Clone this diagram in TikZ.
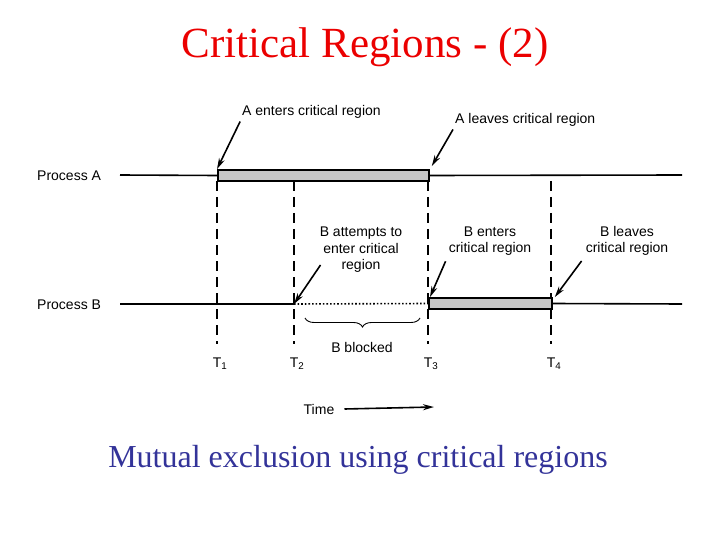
\documentclass[tikz,border=0pt]{standalone}
\usepackage{fontspec}
\setmainfont{Liberation Sans}
\newfontfamily\titlefont{Liberation Serif}
\usetikzlibrary{arrows.meta,decorations.pathreplacing}

\definecolor{titlered}{RGB}{235,0,0}
\definecolor{captionblue}{RGB}{51,51,153}

\tikzset{
  lbl/.style={font=\fontsize{14}{16.5}\selectfont, align=center, inner sep=1pt},
  arr/.style={-{Stealth[length=11pt,width=6pt]}, line width=1.6pt},
  timeline/.style={line width=1.6pt},
  crit/.style={draw, line width=1.8pt, fill=black!22, inner sep=0pt, minimum height=11pt, anchor=west},
  tmark/.style={dash pattern=on 10pt off 6pt, line width=1.5pt},
}

\begin{document}
\begin{tikzpicture}[x=1pt, y=-1pt]
\useasboundingbox (0,0) rectangle (720,540);

% Title and caption
\node[text=titlered, font=\titlefont\fontsize{43}{46}\selectfont] (title) at (365,47) {Critical Regions - (2)};
\node[text=captionblue, font=\titlefont\fontsize{32}{36}\selectfont] (caption) at (358,460) {Mutual exclusion using critical regions};

% Time marks
\foreach \x/\i in {217/1,294/2,428/3,551/4} {
  \draw[tmark] (\x,181) -- (\x,344);
  \node[lbl] (t\i) at (\x+3,364) {T\textsubscript{\i}};
}

% Process labels
\node[lbl, anchor=west] (procA) at (36,176) {Process A};
\node[lbl, anchor=west] (procB) at (36,305) {Process B};

% Critical regions
\node[crit, minimum width=211pt] (barA) at (217,175.5) {};
\node[crit, minimum width=123pt] (barB) at (428,303.5) {};
\coordinate (bTry) at (294,304);

% Process lines
\draw[timeline] (120,175) -- (barA.west);
\draw[timeline] (barA.east) -- (682,175);
\draw[timeline] (120,304) -- (bTry);
\draw[timeline, dotted] (bTry) -- (barB.west);
\draw[timeline] (barB.east) -- (682,304);

% Event labels
\node[lbl, anchor=west] (aEnter) at (241,112) {A enters critical region};
\node[lbl, anchor=west] (aLeave) at (454,120) {A leaves critical region};
\node[lbl] (bTryTxt) at (361,250) {B attempts to\\enter critical\\region};
\node[lbl] (bEnter) at (490,241) {B enters\\critical region};
\node[lbl] (bLeave) at (627,241) {B leaves\\critical region};

% Arrows
\draw[arr, shorten <=2pt] (aEnter.south west) -- (barA.north west);
\draw[arr, shorten <=2pt] (aLeave.south west) -- ([xshift=2pt,yshift=3pt]barA.north east);
\draw[arr] ([xshift=2pt,yshift=9pt]bTryTxt.south west) -- (bTry);
\draw[arr, shorten <=5pt] (bEnter.south west) -- ([xshift=2pt]barB.north west);
\draw[arr, shorten <=5pt] (bLeave.south west) -- ([xshift=2pt]barB.north east);

% Blocked interval
\draw[decorate, decoration={brace, amplitude=9pt, mirror}, line width=0.9pt] (305,318) -- (420,318);
\node[lbl] (blocked) at (362,347) {B blocked};

% Time axis
\node[lbl] (time) at (319,409) {Time};
\coordinate (timeEnd) at (434,407);
\draw[arr] ([xshift=9pt]time.east) -- (timeEnd);

\end{tikzpicture}
\end{document}
